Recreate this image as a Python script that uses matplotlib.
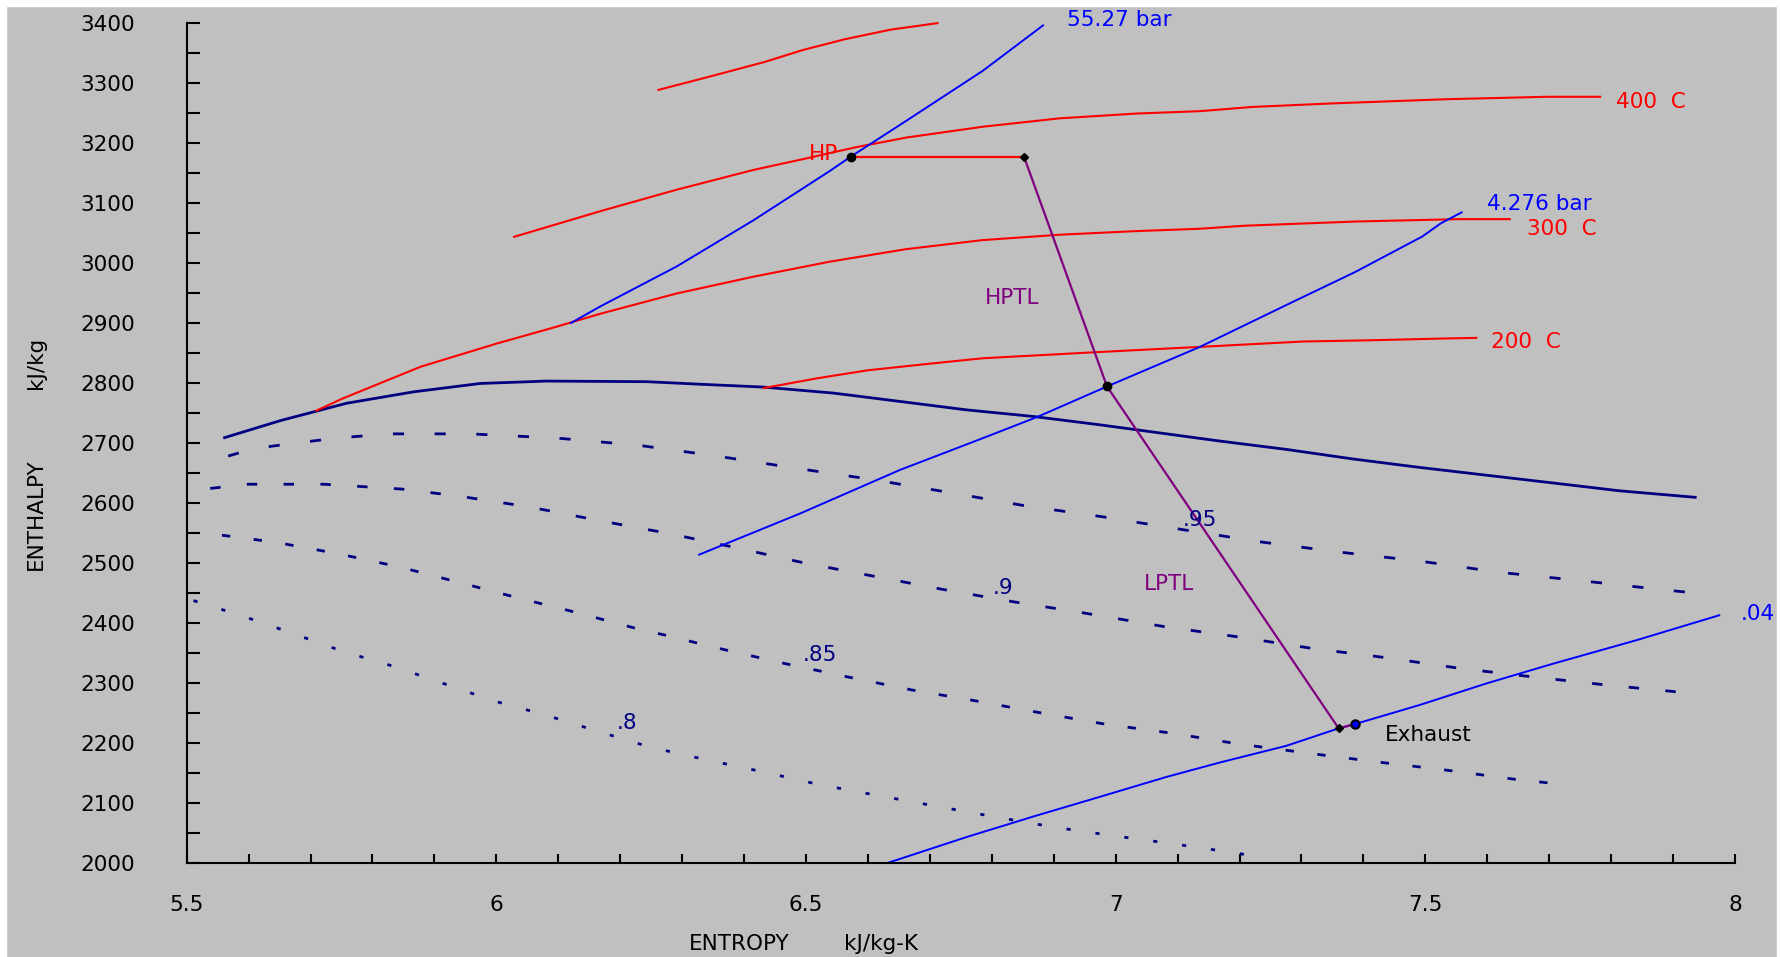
import matplotlib
matplotlib.use('Agg')
import matplotlib.pyplot as plt
from matplotlib.patches import Rectangle
from matplotlib.ticker import MultipleLocator, FuncFormatter

plt.rcParams['font.family'] = 'DejaVu Sans'
plt.rcParams['lines.scale_dashes'] = False

# saturated vapour line
sat_s = [5.559, 5.651, 5.758, 5.866, 5.974, 6.081, 6.243, 6.323, 6.431, 6.544, 6.652,
         6.759, 6.867, 6.975, 7.168, 7.276, 7.384, 7.491, 7.599, 7.707, 7.814, 7.938]
sat_h = [2708, 2737, 2766, 2785, 2799, 2803, 2802, 2798, 2793, 2783, 2769,
         2755, 2744, 2730, 2703, 2689, 2673, 2659, 2646, 2633, 2620, 2609]

# quality lines
x95_s = [5.567, 5.607, 5.656, 5.742, 5.828, 5.957, 6.097, 6.229, 6.356, 6.482, 6.606,
         6.733, 6.854, 6.977, 7.104, 7.233, 7.360, 7.490, 7.621, 7.753, 7.884, 7.952]
x95_h = [2678, 2690, 2697, 2708, 2715, 2715, 2708, 2696, 2678, 2658, 2639,
         2617, 2595, 2577, 2556, 2535, 2518, 2503, 2484, 2470, 2455, 2448]
x90_s = [5.538, 5.599, 5.721, 5.847, 5.941, 6.054, 6.168, 6.278, 6.388, 6.496, 6.628,
         6.719, 6.835, 6.945, 7.082, 7.201, 7.319, 7.435, 7.556, 7.680, 7.804, 7.925]
x90_h = [2624, 2631, 2631, 2623, 2611, 2593, 2570, 2549, 2525, 2500, 2474,
         2456, 2435, 2417, 2393, 2376, 2357, 2342, 2324, 2309, 2295, 2283]
x85_s = [5.557, 5.645, 5.745, 5.844, 5.941, 6.033, 6.130, 6.224, 6.270, 6.369, 6.466, 6.566,
         6.671, 6.773, 6.878, 6.983, 7.090, 7.198, 7.308, 7.422, 7.529, 7.645, 7.699]
x85_h = [2546, 2534, 2515, 2493, 2467, 2442, 2417, 2391, 2380, 2355, 2332, 2310,
         2288, 2270, 2250, 2231, 2216, 2198, 2183, 2168, 2155, 2139, 2133]
x80_s = [5.511, 5.591, 5.672, 5.750, 5.832, 5.914, 5.995, 6.077, 6.161, 6.247, 6.337,
         6.428, 6.518, 6.611, 6.706, 6.802, 6.902, 6.996, 7.096, 7.195, 7.246]
x80_h = [2437, 2411, 2382, 2353, 2328, 2299, 2270, 2247, 2220, 2193, 2172,
         2152, 2131, 2113, 2095, 2077, 2059, 2045, 2031, 2016, 2007]

# isotherms
t500_s = [6.260, 6.353, 6.433, 6.495, 6.563, 6.637, 6.714]
t500_h = [3288, 3313, 3335, 3355, 3373, 3389, 3400]
t400_s = [6.027, 6.115, 6.167, 6.291, 6.415, 6.495, 6.581, 6.662, 6.785, 6.909, 7.033,
          7.136, 7.220, 7.351, 7.536, 7.698, 7.784]
t400_h = [3043, 3070, 3086, 3122, 3155, 3173, 3193, 3209, 3227, 3241, 3249,
          3253, 3260, 3266, 3273, 3277, 3277]
t300_s = [5.708, 5.752, 5.878, 6.002, 6.095, 6.167, 6.291, 6.415, 6.538, 6.662, 6.785,
          6.909, 7.033, 7.136, 7.208, 7.387, 7.554, 7.638]
t300_h = [2753, 2774, 2827, 2866, 2893, 2915, 2949, 2977, 3002, 3023, 3038,
          3047, 3053, 3057, 3062, 3069, 3073, 3073]
t200_s = [6.430, 6.520, 6.600, 6.700, 6.785, 6.965, 7.136, 7.303, 7.411, 7.531, 7.584]
t200_h = [2791, 2808, 2821, 2832, 2841, 2851, 2860, 2869, 2871, 2874, 2875]

# isobars
p55_s = [6.119, 6.167, 6.291, 6.415, 6.538, 6.572, 6.662, 6.785, 6.884]
p55_h = [2899, 2927, 2994, 3071, 3153, 3177, 3237, 3320, 3397]
p4_s = [6.326, 6.490, 6.652, 6.786, 6.873, 6.986, 7.136, 7.286, 7.387, 7.495, 7.525, 7.560]
p4_h = [2513, 2582, 2655, 2708, 2743, 2794, 2860, 2935, 2985, 3044, 3066, 3085]
p004_s = [6.633, 6.760, 6.867, 6.975, 7.082, 7.168, 7.276, 7.360, 7.386, 7.491, 7.599,
          7.707, 7.841, 7.976]
p004_h = [2000, 2043, 2077, 2110, 2143, 2167, 2195, 2224, 2231, 2263, 2299,
          2332, 2371, 2413]

# turbine process
hp_s = [6.572, 6.852]
hp_h = [3177, 3177]
hptl_s = [6.852, 6.986]
hptl_h = [3177, 2794]
lptl_s = [6.986, 7.360, 7.386]
lptl_h = [2794, 2224, 2231]

RED = '#FF0000'
BLUE = '#0000FF'
NAVY = '#000080'
PURPLE = '#800080'
FS = 15.5

fig = plt.figure(figsize=(17.8, 9.57), dpi=100, facecolor='#C0C0C0')
# thin white frame at top / left / right like the screenshot
fig.add_artist(Rectangle((0, 1 - 6 / 957), 1, 6 / 957, transform=fig.transFigure,
                         color='white', zorder=-1))
fig.add_artist(Rectangle((0, 0), 6 / 1780, 1, transform=fig.transFigure,
                         color='white', zorder=-1))
fig.add_artist(Rectangle((1 - 3 / 1780, 0), 3 / 1780, 1, transform=fig.transFigure,
                         color='white', zorder=-1))

ax = fig.add_axes([186.7 / 1780, 1 - 862.7 / 957, 1548.3 / 1780, 839.7 / 957])
ax.patch.set_visible(False)
ax.set_xlim(5.5, 8.0)
ax.set_ylim(2000, 3400)

for sp in ['top', 'right']:
    ax.spines[sp].set_visible(False)
for sp in ['left', 'bottom']:
    ax.spines[sp].set_linewidth(1.5)
    ax.spines[sp].set_color('black')

ax.xaxis.set_major_locator(MultipleLocator(0.5))
ax.xaxis.set_minor_locator(MultipleLocator(0.1))
ax.yaxis.set_major_locator(MultipleLocator(100))
ax.yaxis.set_minor_locator(MultipleLocator(50))
fmt = FuncFormatter(lambda v, p: f'{v:g}')
ax.xaxis.set_major_formatter(fmt)
ax.yaxis.set_major_formatter(fmt)
ax.tick_params(axis='x', which='both', direction='in', length=6.7, width=1.5,
               pad=23, labelsize=FS, colors='black')
ax.tick_params(axis='y', which='both', direction='in', length=9.4, width=1.5,
               pad=37, labelsize=FS, colors='black')

kw = dict(clip_on=False, solid_capstyle='butt', dash_capstyle='butt')

# quality lines
ax.plot(x95_s, x95_h, color=NAVY, lw=2, linestyle=(0, (8, 22)), **kw)
ax.plot(x90_s, x90_h, color=NAVY, lw=2, linestyle=(0, (7.5, 19)), **kw)
ax.plot(x85_s, x85_h, color=NAVY, lw=2, linestyle=(0, (6, 17)), **kw)
ax.plot(x80_s, x80_h, color=NAVY, lw=2, linestyle=(0, (3, 18)), **kw)

# saturation line
ax.plot(sat_s, sat_h, color=NAVY, lw=2, **kw)

# isotherms
for s, h in [(t500_s, t500_h), (t400_s, t400_h), (t300_s, t300_h), (t200_s, t200_h)]:
    ax.plot(s, h, color=RED, lw=1.5, **kw)

# isobars
for s, h in [(p55_s, p55_h), (p4_s, p4_h), (p004_s, p004_h)]:
    ax.plot(s, h, color=BLUE, lw=1.4, **kw)

# turbine expansion
ax.plot(hp_s, hp_h, color=RED, lw=1.6, **kw)
ax.plot(hptl_s, hptl_h, color=PURPLE, lw=1.6, **kw)
ax.plot(lptl_s, lptl_h, color=PURPLE, lw=1.6, **kw)

ax.plot(hp_s[0], hp_h[0], 'o', color='black', ms=6, clip_on=False, zorder=5)
ax.plot(hp_s[1], hp_h[1], 'D', color='black', ms=4, clip_on=False, zorder=5)
ax.plot(hptl_s[1], hptl_h[1], 'o', color='black', ms=6, clip_on=False, zorder=5)
ax.plot(lptl_s[1], lptl_h[1], 'D', color='black', ms=4, clip_on=False, zorder=5)
ax.plot(lptl_s[2], lptl_h[2], 'o', mfc=BLUE, mec='black', mew=1.5, ms=6,
        clip_on=False, zorder=5)

tk = dict(fontsize=FS, ha='left', va='center', clip_on=False)
ax.text(6.921, 3405, '55.27 bar', color=BLUE, **tk)
ax.text(7.600, 3099, '4.276 bar', color=BLUE, **tk)
ax.text(8.010, 2415, '.04', color=BLUE, **tk)
ax.text(7.808, 3268, '400  C', color=RED, **tk)
ax.text(7.664, 3057, '300  C', color=RED, **tk)
ax.text(7.606, 2868, '200  C', color=RED, **tk)
ax.text(6.552, 3181, 'HP', color=RED, fontsize=FS, ha='right', va='center')
ax.text(6.789, 2941, 'HPTL', color=PURPLE, **tk)
ax.text(7.046, 2464, 'LPTL', color=PURPLE, **tk)
ax.text(7.435, 2213, 'Exhaust', color='black', **tk)
ax.text(7.109, 2571, '.95', color=NAVY, **tk)
ax.text(6.802, 2458, '.9', color=NAVY, **tk)
ax.text(6.494, 2346, '.85', color=NAVY, **tk)
ax.text(6.195, 2233, '.8', color=NAVY, **tk)

# axis titles, placed as in the screenshot
fig.text(739 / 1780, 1 - 944 / 957, 'ENTROPY', fontsize=FS, ha='center', va='center')
fig.text(881 / 1780, 1 - 944 / 957, 'kJ/kg-K', fontsize=FS, ha='center', va='center')
fig.text(36 / 1780, 1 - 514 / 957, 'ENTHALPY', fontsize=FS, ha='center', va='center',
         rotation=90)
fig.text(36 / 1780, 1 - 363 / 957, 'kJ/kg', fontsize=FS, ha='center', va='center',
         rotation=90)

fig.savefig('out.png', dpi=100, facecolor=fig.get_facecolor())
